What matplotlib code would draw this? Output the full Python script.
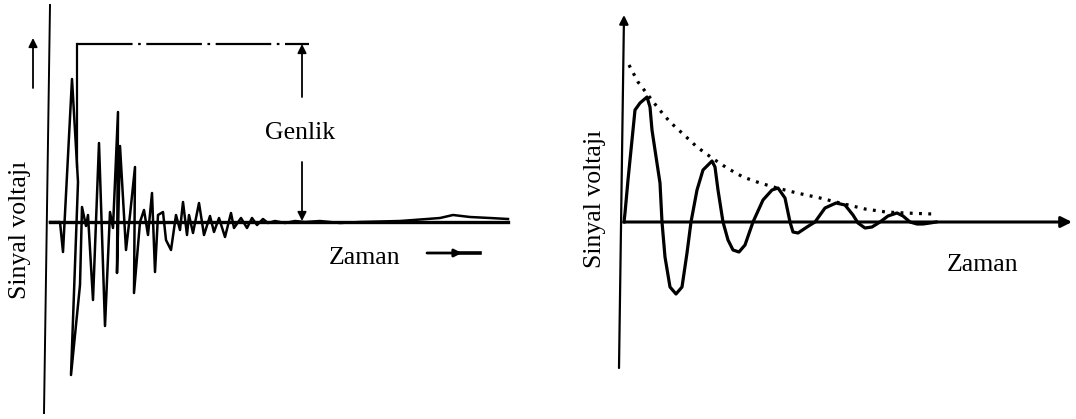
import matplotlib.pyplot as plt

plt.rcParams['font.family'] = ['Liberation Serif', 'DejaVu Serif']

# left: acoustic emission burst (time, signal voltage), arbitrary units
burst_t = [0, 10, 13, 22, 28, 21, 30, 32, 36, 38, 43, 49, 55, 60, 63, 68, 67, 70,
           76, 80, 85, 84, 90, 94, 98, 102, 105, 108, 113, 116, 121, 126, 130,
           133, 137, 139, 143, 149, 154, 160, 164, 169, 175, 181, 184, 191, 197,
           202, 207, 213, 218, 225, 235, 245, 255, 270, 290, 310, 350, 377, 390,
           403, 420, 440, 458]
burst_v = [0, 0, -30, 143, 40, -153, -63, 15, -4, 7, -78, 79, -104, 10, -6, 110,
           -51, 76, -28, 7, 55, -71, 0, 12, -13, 29, -50, 7, 10, -18, -28, 7, -8,
           20, -13, 7, -11, 19, -13, 6, -10, 4, -15, 9, -6, 4, -6, 4, -3, 3, -1,
           1, -1, 1, 0, 1, -1, 0, 1, 3, 4, 7, 5, 4, 3]

# right: damped ringing of the sensor
ring_t = [0, 1, 4, 8, 11, 16, 23, 26, 28, 31, 36, 38, 41, 46, 52, 58, 63, 67,
          73, 79, 88, 91, 94, 99, 104, 109, 115, 121, 129, 139, 148, 154, 161,
          166, 169, 174, 183, 191, 201, 212, 221, 229, 234, 241, 248, 256, 264,
          273, 279, 286, 293, 299, 306, 312]
ring_v = [0, 9, 42, 82, 112, 119, 125, 115, 92, 72, 39, 0, -35, -65, -72, -65,
          -31, 0, 32, 52, 61, 55, 32, 0, -18, -28, -30, -23, 0, 22, 32, 34, 24,
          0, -10, -11, -5, 0, 14, 19, 17, 7, -1, -6, -5, 0, 6, 9, 6, 0, -2, -2,
          -1, 0]

# decay envelope of the ringing peaks
env_t = [5, 14, 34, 46, 58, 73, 88, 103, 119, 136, 153, 173, 196, 216, 241,
         262, 281, 309]
env_v = [157, 140, 114, 100, 89, 75, 64, 54, 45, 39, 34, 29, 24, 19, 13, 10,
         9, 8]

LABEL_SIZE = 18.5
arrow_kw = dict(arrowstyle='-|>', color='k', lw=1.3, mutation_scale=13,
                shrinkA=0, shrinkB=0)

fig = plt.figure(figsize=(10.76, 4.19), dpi=100)
ax1 = fig.add_axes([0, 0, 540 / 1076, 1])
ax2 = fig.add_axes([540 / 1076, 0, 536 / 1076, 1])
ax1.set_xlim(-50, 490)
ax1.set_ylim(-197, 222)
ax2.set_xlim(-84, 452)
ax2.set_ylim(-197, 222)
for ax in (ax1, ax2):
    ax.axis('off')

# ---- left panel: burst signal ----
ax1.plot([0, -6], [217, -191], color='k', lw=1.4)
ax1.plot([0, 458], [0, 0], color='k', lw=2.4)
ax1.plot(burst_t, burst_v, color='k', lw=1.8)

ax1.annotate('', xy=(-17, 184), xytext=(-17, 134), arrowprops=arrow_kw)
ax1.text(-30, -8, 'Sinyal voltajı', rotation=90, ha='center', va='center',
         fontsize=LABEL_SIZE)

# amplitude marker
ax1.plot([27, 27], [55, 178], color='k', lw=1.6)
ax1.plot([27, 259], [178, 178], color='k', lw=1.6,
         linestyle=(0, (25, 2.5, 1.2, 2.5)))
ax1.annotate('', xy=(252, 178), xytext=(252, 125), arrowprops=arrow_kw)
ax1.annotate('', xy=(252, 1), xytext=(252, 60), arrowprops=arrow_kw)
ax1.text(250, 89, 'Genlik', ha='center', va='center', fontsize=LABEL_SIZE)

ax1.text(315, -36, 'Zaman', ha='center', va='center', fontsize=LABEL_SIZE)
ax1.annotate('', xy=(412, -31), xytext=(377, -31),
             arrowprops=dict(arrow_kw, lw=2, mutation_scale=11))
ax1.plot([405, 430], [-31, -31], color='k', lw=2.6)

# ---- right panel: damped ringing ----
ax2.annotate('', xy=(0, 207), xytext=(-5, -146),
             arrowprops=dict(arrow_kw, lw=1.6))
ax2.annotate('', xy=(448, 0), xytext=(0, 0),
             arrowprops=dict(arrow_kw, lw=2.2, mutation_scale=16))
ax2.plot(ring_t, ring_v, color='k', lw=2.3)
ax2.plot(env_t, env_v, color='k', lw=2.3, linestyle=(0, (0.9, 2.0)),
         dash_capstyle='butt')

ax2.text(-29, 23, 'Sinyal voltajı', rotation=90, ha='center', va='center',
         fontsize=LABEL_SIZE)
ax2.text(359, -43, 'Zaman', ha='center', va='center', fontsize=LABEL_SIZE)

fig.savefig('out.png', dpi=100)
